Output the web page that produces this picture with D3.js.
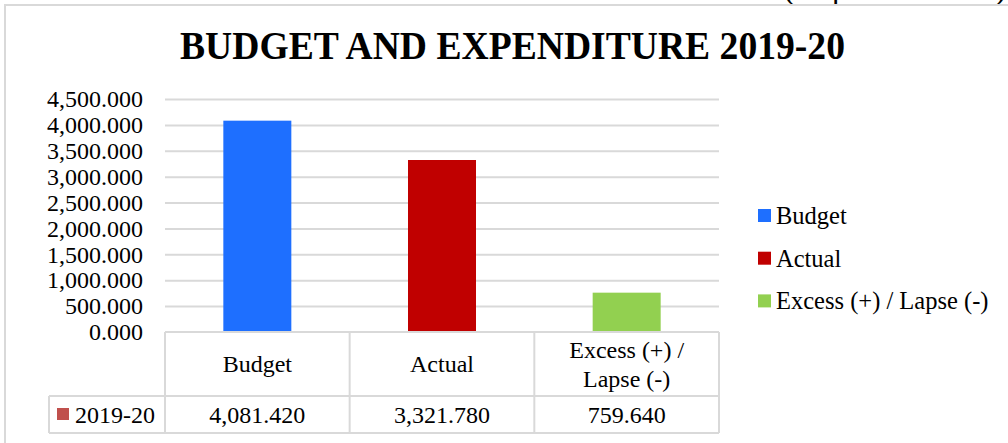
<!DOCTYPE html>
<html>
<head>
<meta charset="utf-8">
<script src="https://cdn.jsdelivr.net/npm/d3@7"></script>
<style>
  html, body { margin: 0; padding: 0; background: #fff; }
  svg { display: block; font-family: "Liberation Serif", "Times New Roman", serif; }
</style>
</head>
<body>
<svg id="chart" width="1008" height="443"></svg>
<script>
// Budget and expenditure figures, 2019-20
const categories = ["Budget", "Actual", "Excess (+) / Lapse (-)"];
const headerLines = [["Budget"], ["Actual"], ["Excess (+) /", "Lapse (-)"]];
const values = [4081.420, 3321.780, 759.640];
const seriesName = "2019-20";
const colors = ["#1E6FFF", "#C00000", "#92D050"];
const yTicks = [0, 500, 1000, 1500, 2000, 2500, 3000, 3500, 4000, 4500];
const titleText = "BUDGET AND EXPENDITURE 2019-20";
const unitText = "(Rupees in crore)";

const svg = d3.select("#chart");
const grid = "#d9d9d9";

// plot region
const plot = { left: 165, right: 719, top: 99, bottom: 332 };
const x = d3.scaleBand().domain(categories).range([plot.left, plot.right]).paddingInner(0).paddingOuter(0);
const y = d3.scaleLinear().domain([0, 4500]).range([plot.bottom, plot.top]);
const fmt = d3.format(",.3f");

// unit note above the frame
svg.append("text").attr("x", 1006).attr("y", -1).attr("text-anchor", "end")
  .attr("font-size", 32).attr("fill", "#000").text(unitText);

// chart frame
svg.append("rect").attr("x", 5).attr("y", 5).attr("width", 1020).attr("height", 460)
  .attr("fill", "#fff").attr("stroke", grid).attr("stroke-width", 2);

// title (condensed to fit its box)
svg.append("text").attr("x", 180).attr("y", 59)
  .attr("font-size", 40).attr("font-weight", "bold").attr("fill", "#000")
  .attr("textLength", 665).attr("lengthAdjust", "spacingAndGlyphs").text(titleText);

// gridlines + y labels
const yAxis = d3.axisLeft(y).tickValues(yTicks).tickFormat(fmt)
  .tickSize(-(plot.right - plot.left)).tickPadding(22);
const gy = svg.append("g").attr("transform", `translate(${plot.left},0)`).call(yAxis);
gy.select(".domain").remove();
gy.selectAll(".tick line").attr("stroke", grid).attr("stroke-width", 2)
  .filter(d => d === 0).remove();
gy.selectAll(".tick text").attr("font-size", 24).attr("fill", "#000")
  .attr("font-family", "Liberation Serif, Times New Roman, serif");

// bars
const barW = 68;
svg.append("g").selectAll("rect").data(values).join("rect")
  .attr("x", (d, i) => x(categories[i]) + x.bandwidth() / 2 - barW / 2)
  .attr("y", d => y(d))
  .attr("width", barW)
  .attr("height", d => y(0) - y(d))
  .attr("fill", (d, i) => colors[i]);

// data table
const rowTop = plot.bottom, rowMid = 396, rowBot = 433, leftCell = 49;
const tbl = svg.append("g").attr("stroke", grid).attr("stroke-width", 2).attr("fill", "none");
tbl.append("line").attr("x1", plot.left).attr("x2", plot.right).attr("y1", rowTop).attr("y2", rowTop);
tbl.append("line").attr("x1", leftCell).attr("x2", plot.right).attr("y1", rowMid).attr("y2", rowMid);
tbl.append("line").attr("x1", leftCell).attr("x2", plot.right).attr("y1", rowBot).attr("y2", rowBot);
tbl.append("line").attr("x1", leftCell).attr("x2", leftCell).attr("y1", rowMid).attr("y2", rowBot);
const colEdges = categories.map(c => x(c)).concat([plot.right]);
tbl.selectAll(".v").data(colEdges).join("line")
  .attr("x1", d => d).attr("x2", d => d).attr("y1", rowTop).attr("y2", rowBot);

// header cells
const hdr = svg.append("g").attr("font-size", 24).attr("fill", "#000").attr("text-anchor", "middle");
categories.forEach((c, i) => {
  const lines = headerLines[i];
  const cx = x(c) + x.bandwidth() / 2;
  const cy = (rowTop + rowMid) / 2;
  const lh = 29;
  lines.forEach((ln, j) => {
    hdr.append("text").attr("x", cx)
      .attr("y", cy + (j - (lines.length - 1) / 2) * lh)
      .attr("dy", "0.35em").text(ln);
  });
});

// value row
const valRow = svg.append("g").attr("font-size", 24).attr("fill", "#000").attr("text-anchor", "middle");
values.forEach((v, i) => {
  valRow.append("text").attr("x", x(categories[i]) + x.bandwidth() / 2)
    .attr("y", (rowMid + rowBot) / 2).attr("dy", "0.35em").text(fmt(v));
});
svg.append("rect").attr("x", 57).attr("y", 408).attr("width", 12).attr("height", 12).attr("fill", "#C0504D");
svg.append("text").attr("x", 75).attr("y", (rowMid + rowBot) / 2).attr("dy", "0.35em")
  .attr("font-size", 24).attr("fill", "#000").text(seriesName);

// legend
const lg = svg.append("g").attr("transform", "translate(758,209)");
categories.forEach((c, i) => {
  const g = lg.append("g").attr("transform", `translate(0,${i * 42.7})`);
  g.append("rect").attr("width", 13).attr("height", 13).attr("fill", colors[i]);
  g.append("text").attr("x", 18).attr("y", 6.5).attr("dy", "0.35em")
    .attr("font-size", 24.5).attr("fill", "#000").text(c);
});
</script>
</body>
</html>
